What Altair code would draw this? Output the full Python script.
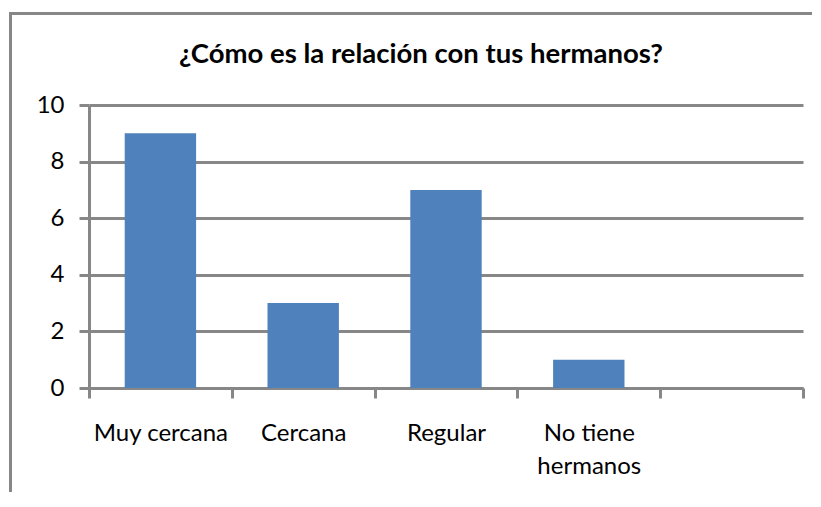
import altair as alt
import pandas as pd

categories = ["Muy cercana", "Cercana", "Regular", "No tiene|hermanos"]
values = [9, 3, 7, 1]
domain_x = categories + [""]
y_ticks = [0, 2, 4, 6, 8, 10]
title_text = "¿Cómo es la relación con tus hermanos?"

df = pd.DataFrame({"cat": categories, "val": values})

GRID = "#878787"
FONT = "Lato"
W, H = 714, 283

bars = alt.Chart(df).mark_bar(color="#4F81BD", width=alt.RelativeBandSize(0.5)).encode(
    x=alt.X("cat:N", sort=domain_x,
            scale=alt.Scale(domain=domain_x, paddingInner=0, paddingOuter=0),
            axis=alt.Axis(title=None, labelAngle=0, tickBand="extent",
                          tickSize=10, tickWidth=3, tickColor=GRID,
                          domainColor=GRID, domainWidth=3, grid=False,
                          labelFont=FONT, labelFontSize=24, labelColor="black",
                          labelPadding=23, labelLineHeight=33,
                          labelExpr="split(datum.label, '|')")),
    y=alt.Y("val:Q", scale=alt.Scale(domain=[0, 10], nice=False),
            axis=alt.Axis(title=None, values=y_ticks, tickSize=10, tickWidth=3,
                          tickColor=GRID, domainColor=GRID, domainWidth=3,
                          grid=True, gridColor=GRID, gridWidth=3,
                          labelFont=FONT, labelFontSize=24, labelColor="black",
                          labelPadding=15)),
)

border_src = alt.Data(values=[{"t": title_text}])
top_border = alt.Chart(border_src).mark_rule(color=GRID, strokeWidth=3).encode(
    x=alt.value(-80), x2=alt.value(W + 40), y=alt.value(-91.5))
left_border = alt.Chart(border_src).mark_rule(color=GRID, strokeWidth=3).encode(
    x=alt.value(-78.5), y=alt.value(-93), y2=alt.value(H + 130))
title = alt.Chart(border_src).mark_text(
    font=FONT, fontSize=27.5, fontWeight="bold", color="black",
    align="center", baseline="alphabetic").encode(
    text="t:N", x=alt.value(332), y=alt.value(-42))

chart = alt.layer(top_border, left_border, title, bars).properties(
    width=W, height=H,
    autosize=alt.AutoSizeParams(type="none"),
    padding={"left": 81, "top": 97, "right": 9, "bottom": 104},
).configure_view(stroke=None)

chart.save("out.html", embed_options={"renderer": "svg", "actions": False})
